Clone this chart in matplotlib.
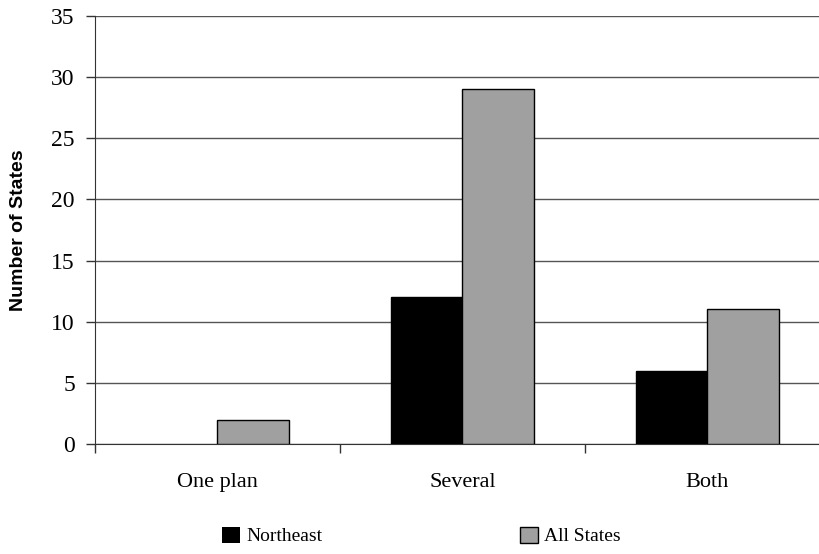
import matplotlib.pyplot as plt
import numpy as np

categories = ["One plan", "Several", "Both"]
northeast = [0, 12, 6]
all_states = [2, 29, 11]
yticks = [0, 5, 10, 15, 20, 25, 30, 35]

serif = "Liberation Serif"
sans = "Liberation Sans"

fig = plt.figure(figsize=(8.2, 5.54), dpi=100)
# plot area runs slightly past the right edge of the figure, as in the original
ax = fig.add_axes([95 / 820, 1 - 444 / 554, 735 / 820, 428 / 554])

x = np.arange(len(categories))
w = 0.29
ax.bar(x - w / 2, northeast, w, color="black", edgecolor="black",
       linewidth=[1 if v else 0 for v in northeast], label="Northeast", zorder=3)
ax.bar(x + w / 2, all_states, w, color="#a0a0a0", edgecolor="black",
       linewidth=[1 if v else 0 for v in all_states], label="All States", zorder=3)

ax.set_xlim(-0.5, 2.5)
ax.set_ylim(0, 35)
ax.set_yticks(yticks)
ax.set_yticklabels([str(t) for t in yticks], fontfamily=serif, fontsize=17)
ax.set_xticks(x)
ax.set_xticklabels(categories, fontfamily=serif, fontsize=16)
ax.tick_params(axis="x", which="major", length=0, pad=21)
ax.set_xticks([-0.5, 0.5, 1.5, 2.5], minor=True)
ax.tick_params(axis="x", which="minor", length=6.5, width=1, color="#333333")
ax.tick_params(axis="y", length=6.5, width=1, color="#333333", pad=8)

ax.yaxis.grid(True, color="#555555", linewidth=1)
ax.set_axisbelow(True)
for side in ["top", "right"]:
    ax.spines[side].set_visible(False)
ax.spines["left"].set_color("#333333")
ax.spines["bottom"].set_color("#333333")

ax.set_ylabel("Number of States", fontfamily=sans, fontweight="bold", fontsize=14)
ax.yaxis.set_label_coords(-0.093, 0.5)

fig.legend(loc="center left", bbox_to_anchor=(222 / 820, 1 - 536 / 554), ncol=2,
           frameon=False, prop={"family": serif, "size": 14}, borderpad=0,
           borderaxespad=0, columnspacing=10.2, handlelength=0.93,
           handleheight=0.9, handletextpad=0.3)

fig.savefig("out.png", dpi=100)
